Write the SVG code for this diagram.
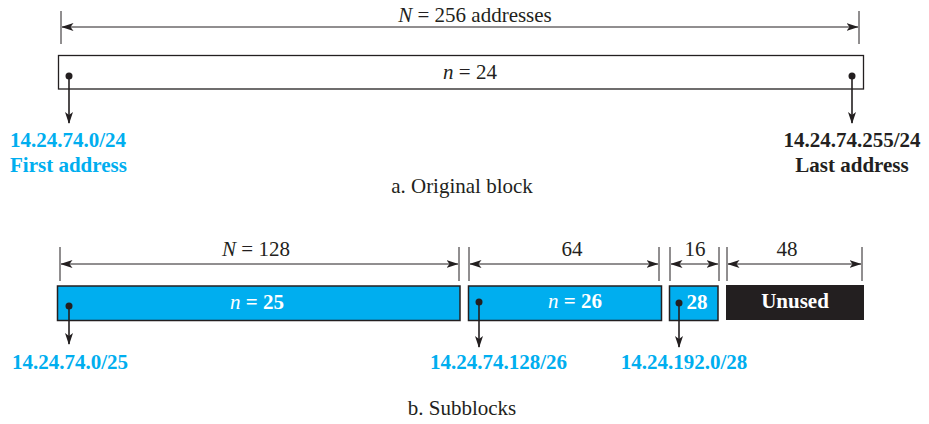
<svg xmlns="http://www.w3.org/2000/svg" width="929" height="424" viewBox="0 0 929 424">
<style>
text{font-family:"Liberation Serif","Times New Roman",serif;font-size:21px;fill:#231f20}
.b{font-weight:bold}
.c{fill:#00aeef}
.w{fill:#fff}
.i{font-style:italic;font-weight:normal}
.tick{stroke:#231f20;stroke-width:1}
.dim{stroke:#231f20;stroke-width:1;fill:none;marker-start:url(#dh);marker-end:url(#dh)}
.ptr{stroke:#231f20;stroke-width:1.6;fill:none;marker-end:url(#ah)}
.dot{fill:#231f20}
.box{stroke:#231f20;stroke-width:1.5}
</style>
<defs>
<marker id="dh" viewBox="0 0 12 8" refX="11.5" refY="4" markerWidth="12" markerHeight="8" markerUnits="userSpaceOnUse" orient="auto-start-reverse">
<path d="M0,0 L12,4 L0,8 L3,4 Z" fill="#231f20"/>
</marker>
<marker id="ah" viewBox="0 0 12 8" refX="11" refY="4" markerWidth="12" markerHeight="8" markerUnits="userSpaceOnUse" orient="auto">
<path d="M0,0 L12,4 L0,8 L3,4 Z" fill="#231f20"/>
</marker>
</defs>

<g id="original-dimension">
<line class="tick" x1="61" y1="11" x2="61" y2="44"/>
<line class="tick" x1="859" y1="11" x2="859" y2="44"/>
<text x="475" y="22" text-anchor="middle"><tspan font-style="italic">N</tspan> = 256 addresses</text>
</g>
<g id="original-block">
<rect x="58.5" y="55.5" width="805" height="33.5" fill="#fff" stroke="#231f20" stroke-width="1.3"/>
<text x="470" y="79" text-anchor="middle"><tspan font-style="italic">n</tspan> = 24</text>
</g>
<g id="first-address">
<circle class="dot" cx="69" cy="76" r="3.5"/>
<text class="b c" x="10" y="147">14.24.74.0/24</text>
<text class="b c" x="10" y="172">First address</text>
</g>
<g id="last-address">
<circle class="dot" cx="852" cy="76" r="3.5"/>
<text class="b" x="852" y="147" text-anchor="middle">14.24.74.255/24</text>
<text class="b" x="852" y="172" text-anchor="middle">Last address</text>
</g>
<text x="462" y="193" text-anchor="middle">a. Original block</text>

<g id="dim-128">
<line class="tick" x1="60" y1="247" x2="60" y2="281"/>
<line class="tick" x1="459" y1="247" x2="459" y2="281"/>
<text x="256" y="256" text-anchor="middle"><tspan font-style="italic">N</tspan> = 128</text>
</g>
<g id="dim-64">
<line class="tick" x1="469" y1="247" x2="469" y2="281"/>
<line class="tick" x1="659" y1="247" x2="659" y2="281"/>
<text x="572" y="256" text-anchor="middle">64</text>
</g>
<g id="dim-16">
<line class="tick" x1="670" y1="247" x2="670" y2="281"/>
<line class="tick" x1="719" y1="247" x2="719" y2="281"/>
<text x="695" y="256" text-anchor="middle">16</text>
</g>
<g id="dim-48">
<line class="tick" x1="727" y1="247" x2="727" y2="281"/>
<line class="tick" x1="862" y1="247" x2="862" y2="281"/>
<text x="787" y="256" text-anchor="middle">48</text>
</g>

<g id="subblock-25">
<rect class="box" x="57.5" y="286" width="402.5" height="34.5" fill="#00aeef"/>
<circle class="dot" cx="69" cy="306" r="3.5"/>
<text class="b w" x="257" y="309" text-anchor="middle"><tspan class="i">n</tspan> = 25</text>
<text class="b c" x="12" y="369">14.24.74.0/25</text>
</g>
<g id="subblock-26">
<rect class="box" x="468.5" y="286" width="193" height="34.5" fill="#00aeef"/>
<circle class="dot" cx="479" cy="302" r="3.5"/>
<text class="b w" x="575" y="308" text-anchor="middle"><tspan class="i">n</tspan> = 26</text>
<text class="b c" x="567" y="369" text-anchor="end">14.24.74.128/26</text>
</g>
<g id="subblock-28">
<rect class="box" x="669.5" y="286" width="48.5" height="34.5" fill="#00aeef"/>
<circle class="dot" cx="679" cy="303" r="3.5"/>
<text class="b w" x="697" y="309" text-anchor="middle">28</text>
<text class="b c" x="684" y="369" text-anchor="middle">14.24.192.0/28</text>
</g>
<g id="unused">
<rect x="726" y="285" width="138" height="35" fill="#231f20"/>
<text class="b w" x="795" y="308" text-anchor="middle">Unused</text>
</g>
<text x="462" y="415" text-anchor="middle">b. Subblocks</text>

<g id="connectors">
<line class="dim" x1="62" y1="27" x2="858" y2="27"/>
<line class="ptr" x1="69" y1="76" x2="69" y2="123"/>
<line class="ptr" x1="852" y1="76" x2="852" y2="123"/>
<line class="dim" x1="61" y1="264" x2="458" y2="264"/>
<line class="dim" x1="470" y1="264" x2="658" y2="264"/>
<line class="dim" x1="671" y1="264" x2="718" y2="264"/>
<line class="dim" x1="728" y1="264" x2="861" y2="264"/>
<line class="ptr" x1="69" y1="306" x2="69" y2="344"/>
<line class="ptr" x1="479" y1="302" x2="479" y2="347"/>
<line class="ptr" x1="679" y1="303" x2="679" y2="347"/>
</g>
</svg>
